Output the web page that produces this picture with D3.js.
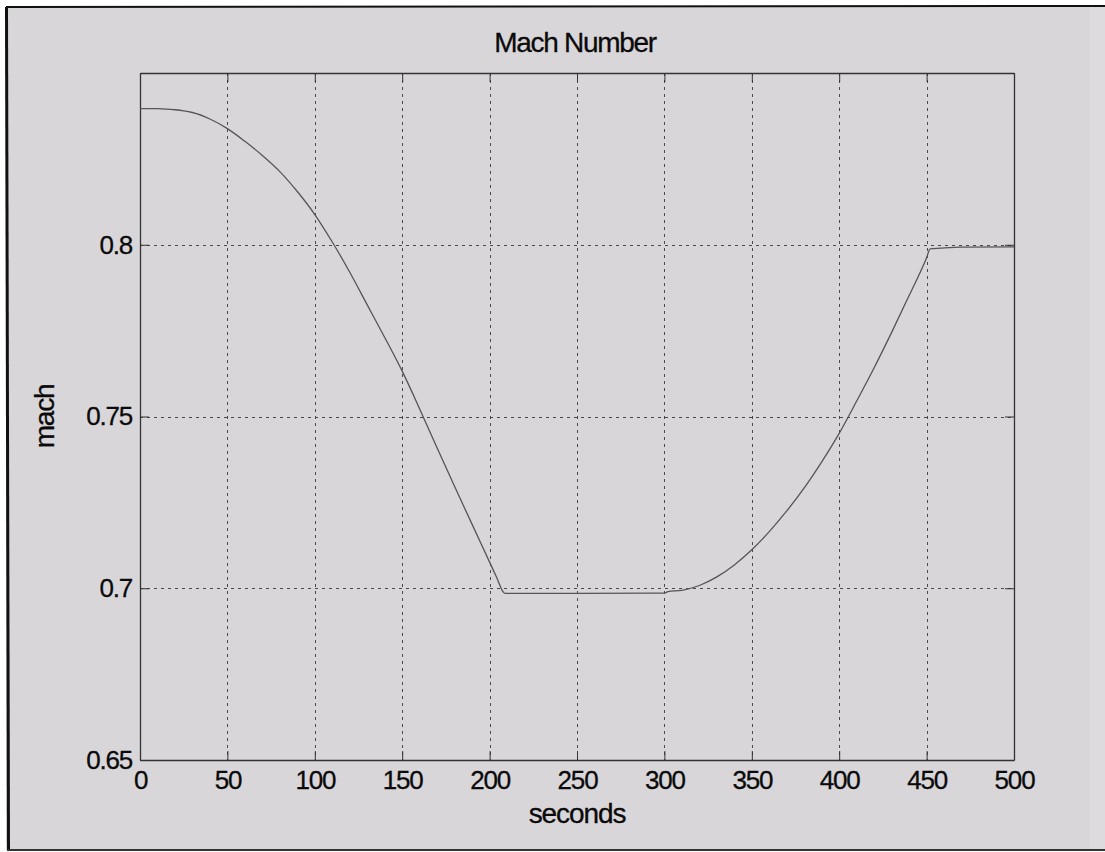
<!DOCTYPE html>
<html><head><meta charset="utf-8">
<script src="https://cdn.jsdelivr.net/npm/d3@7"></script>
<style>
html,body{margin:0;padding:0;background:#ffffff;}
svg{display:block;}
text{font-family:"Liberation Sans",Arial,Helvetica,sans-serif;fill:#0a0a0a;}
</style></head>
<body>
<script>
// ---- data ----
const timeSeconds = [0,10,15,20,25,30,40,50,60,70,80,90,100,110,120,130,140,150,160,170,180,190,200,204,208,209,250,300,302,310,320,330,340,350,360,370,380,390,400,410,420,430,440,450,452,458,470,500];
const machValues  = [0.8396,0.8396,0.8395,0.8393,0.8390,0.8385,0.8366,0.8338,0.8301,0.8260,0.8213,0.8155,0.8088,0.8008,0.7920,0.7825,0.7730,0.7632,0.7522,0.7408,0.7296,0.7186,0.7076,0.7032,0.6988,0.6985,0.6985,0.6986,0.6990,0.6994,0.7008,0.7033,0.7068,0.7112,0.7165,0.7225,0.7292,0.7368,0.7451,0.7545,0.7642,0.7745,0.7852,0.7962,0.7988,0.7990,0.7993,0.7994];
const xTicks = [0,50,100,150,200,250,300,350,400,450,500];
const yTicks = [0.65,0.7,0.75,0.8];
const yTickLabels = ["0.65","0.7","0.75","0.8"];
const titleText = "Mach Number";
const xLabel = "seconds";
const yLabel = "mach";

const W = 1105, H = 852;
const svg = d3.select("body").append("svg").attr("width", W).attr("height", H);

// scanned page background
svg.append("rect").attr("x",0).attr("y",0).attr("width",W).attr("height",H).attr("fill","#ffffff");
svg.append("rect").attr("x",6).attr("y",7).attr("width",W-6).attr("height",843).attr("fill","#d9d6da");
svg.append("rect").attr("x",1090).attr("y",7).attr("width",15).attr("height",843).attr("fill","#dedbde");
// frame lines
svg.append("line").attr("x1",6).attr("y1",7).attr("x2",W).attr("y2",6).attr("stroke","#111").attr("stroke-width",2);
svg.append("line").attr("x1",6.5).attr("y1",7).attr("x2",8.5).attr("y2",851).attr("stroke","#111").attr("stroke-width",3);
svg.append("line").attr("x1",7).attr("y1",850).attr("x2",W).attr("y2",850).attr("stroke","#333").attr("stroke-width",2);

const L = 140, R = 1014, T = 73, B = 760;
const x = d3.scaleLinear().domain([0,500]).range([L,R]);
const y = d3.scaleLinear().domain([0.65,0.85]).range([B,T]);

// grid
const grid = svg.append("g").attr("stroke","#4a4a4a").attr("stroke-width",1).attr("stroke-dasharray","3,4").attr("fill","none");
grid.selectAll("line.v").data(xTicks.filter(d=>d>0&&d<500)).join("line")
  .attr("x1",d=>Math.round(x(d))+0.5).attr("x2",d=>Math.round(x(d))+0.5).attr("y1",T).attr("y2",B);
grid.selectAll("line.h").data(yTicks.filter(d=>d>0.65)).join("line")
  .attr("y1",d=>Math.round(y(d))+0.5).attr("y2",d=>Math.round(y(d))+0.5).attr("x1",L).attr("x2",R);

// axes
const fmtY = d => yTickLabels[yTicks.indexOf(d)];
const gx = svg.append("g").attr("transform",`translate(0,${B})`)
  .call(d3.axisBottom(x).tickValues(xTicks).tickSize(-9).tickPadding(11).tickSizeOuter(0).tickFormat(d3.format("d")));
const gy = svg.append("g").attr("transform",`translate(${L},0)`)
  .call(d3.axisLeft(y).tickValues(yTicks).tickSize(-9).tickPadding(8).tickSizeOuter(0).tickFormat(fmtY));
const gt = svg.append("g").attr("transform",`translate(0,${T})`)
  .call(d3.axisTop(x).tickValues(xTicks).tickSize(-9).tickSizeOuter(0).tickFormat(""));
const gr = svg.append("g").attr("transform",`translate(${R},0)`)
  .call(d3.axisRight(y).tickValues(yTicks).tickSize(-9).tickSizeOuter(0).tickFormat(""));
[gx,gy,gt,gr].forEach(g=>{
  g.selectAll("path.domain").attr("stroke","#333").attr("stroke-width",1.3);
  g.selectAll(".tick line").attr("stroke","#333").attr("stroke-width",1);
  g.selectAll(".tick text").attr("font-size",26).attr("font-family","Liberation Sans, Arial, sans-serif")
    .attr("fill","#0a0a0a").attr("stroke","#0a0a0a").attr("stroke-width",0.3).attr("letter-spacing","-1.2px");
});

// curve
const pts = timeSeconds.map((t,i)=>[t,machValues[i]]);
svg.append("path").datum(pts)
  .attr("fill","none").attr("stroke","#555").attr("stroke-width",1.3)
  .attr("d", d3.line().x(d=>x(d[0])).y(d=>y(d[1])).curve(d3.curveMonotoneX));

// texts
const txtStyle = s => s.attr("stroke","#0a0a0a").attr("stroke-width",0.3);
svg.append("text").attr("x",(L+R)/2 - 2).attr("y",52).attr("text-anchor","middle").attr("font-size",28).attr("letter-spacing","-1.3px").text(titleText).call(txtStyle);
svg.append("text").attr("x",(L+R)/2).attr("y",823).attr("text-anchor","middle").attr("font-size",28).attr("letter-spacing","-1.1px").text(xLabel).call(txtStyle);
svg.append("text").attr("transform",`translate(54,${(T+B)/2}) rotate(-90)`).attr("text-anchor","middle").attr("font-size",28).attr("letter-spacing","-1.2px").text(yLabel).call(txtStyle);
</script>
</body></html>
